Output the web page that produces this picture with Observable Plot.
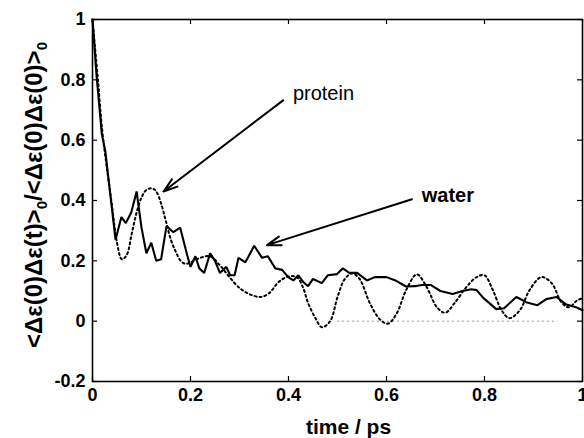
<!DOCTYPE html>
<html>
<head>
<meta charset="utf-8">
<script src="https://cdn.jsdelivr.net/npm/d3@7"></script>
<script src="https://cdn.jsdelivr.net/npm/@observablehq/plot@0.6"></script>
<style>
  html, body { margin: 0; padding: 0; background: #fff; }
  svg { display: block; }
</style>
</head>
<body>
<script>
// time (ps) and normalized correlation, solid curve ("water")
const waterSeries = [
  [0,1.0],[0.008,0.82],[0.019,0.62],[0.026,0.565],[0.047,0.27],[0.059,0.345],[0.068,0.325],
  [0.079,0.36],[0.09,0.43],[0.10,0.31],[0.11,0.225],[0.12,0.26],[0.13,0.20],[0.14,0.205],
  [0.151,0.315],[0.165,0.295],[0.179,0.31],[0.193,0.22],[0.2,0.18],[0.21,0.215],[0.218,0.175],
  [0.228,0.16],[0.24,0.225],[0.25,0.2],[0.26,0.16],[0.273,0.18],[0.281,0.152],[0.29,0.152],
  [0.298,0.21],[0.312,0.195],[0.33,0.25],[0.346,0.21],[0.358,0.215],[0.373,0.175],[0.387,0.17],
  [0.40,0.145],[0.41,0.135],[0.42,0.152],[0.43,0.13],[0.44,0.116],[0.45,0.14],[0.468,0.126],
  [0.48,0.152],[0.499,0.156],[0.511,0.175],[0.524,0.16],[0.54,0.16],[0.56,0.135],[0.576,0.146],
  [0.60,0.146],[0.617,0.136],[0.64,0.115],[0.658,0.116],[0.672,0.12],[0.69,0.12],[0.71,0.1],
  [0.735,0.09],[0.755,0.1],[0.773,0.106],[0.784,0.103],[0.797,0.078],[0.824,0.04],[0.84,0.043],
  [0.865,0.08],[0.885,0.063],[0.908,0.053],[0.926,0.073],[0.947,0.08],[0.967,0.055],
  [0.987,0.046],[1.0,0.036]
];
// dotted curve ("protein")
const proteinSeries = [
  [0,1.0],[0.01,0.82],[0.02,0.63],[0.03,0.5],[0.04,0.38],[0.05,0.26],[0.06,0.205],[0.07,0.22],
  [0.08,0.29],[0.09,0.36],[0.1,0.41],[0.11,0.435],[0.122,0.44],[0.13,0.43],[0.14,0.39],
  [0.15,0.33],[0.16,0.27],[0.17,0.23],[0.18,0.2],[0.19,0.19],[0.2,0.195],[0.22,0.21],
  [0.24,0.215],[0.26,0.185],[0.28,0.145],[0.3,0.11],[0.32,0.09],[0.342,0.08],[0.36,0.092],
  [0.38,0.13],[0.40,0.148],[0.417,0.146],[0.43,0.11],[0.44,0.06],[0.455,0.01],[0.468,-0.02],
  [0.485,0.0],[0.5,0.08],[0.515,0.14],[0.53,0.158],[0.545,0.14],[0.566,0.06],[0.587,0.005],
  [0.603,-0.008],[0.621,0.026],[0.64,0.103],[0.662,0.155],[0.682,0.113],[0.703,0.046],
  [0.72,0.028],[0.739,0.06],[0.763,0.113],[0.784,0.146],[0.8,0.152],[0.817,0.103],
  [0.835,0.036],[0.851,0.01],[0.872,0.036],[0.892,0.103],[0.916,0.146],[0.937,0.126],
  [0.957,0.063],[0.972,0.046],[0.99,0.07],[1.0,0.075]
];
// faint zero reference segment
const zeroSegment = [{x1: 0.5, x2: 0.95, y: 0}];

const xTicks = [0, 0.2, 0.4, 0.6, 0.8, 1];
const yTicks = [-0.2, 0, 0.2, 0.4, 0.6, 0.8, 1];
const xLabel = "time / ps";

// annotations: label, label anchor point, arrow start and tip
const proteinNote = [{label: "protein", tx: 0.409, ty: 0.755, x1: 0.389, y1: 0.732, x2: 0.145, y2: 0.43}];
const waterNote   = [{label: "water",   tx: 0.672, ty: 0.417, x1: 0.652, y1: 0.404, x2: 0.356, y2: 0.252}];

const W = 584, H = 438;
const mL = 92, mR = 2, mT = 19, mB = 57;
const innerW = W - mL - mR, innerH = H - mT - mB;
const tickLen = 5;
const font = "'Liberation Sans', Arial, Helvetica, sans-serif";

const chart = Plot.plot({
  width: W, height: H,
  marginLeft: mL, marginRight: mR, marginTop: mT, marginBottom: mB,
  style: {fontFamily: font, fontSize: "18px", color: "#000", background: "#fff"},
  x: {domain: [0, 1]},
  y: {domain: [-0.2, 1]},
  marks: [
    Plot.ruleY(zeroSegment, {x1: "x1", x2: "x2", y: "y", stroke: "#999", strokeWidth: 1, strokeDasharray: "2,3"}),
    Plot.line(proteinSeries, {x: d => d[0], y: d => d[1], stroke: "#000", strokeWidth: 2, strokeDasharray: "2,3", curve: "catmull-rom"}),
    Plot.line(waterSeries, {x: d => d[0], y: d => d[1], stroke: "#000", strokeWidth: 2.1, strokeLinejoin: "miter"}),
    Plot.arrow(proteinNote.concat(waterNote), {x1: "x1", y1: "y1", x2: "x2", y2: "y2", stroke: "#000", strokeWidth: 2, headLength: 11, headAngle: 36}),
    Plot.text(proteinNote, {x: "tx", y: "ty", text: "label", textAnchor: "start", fontSize: 20, fill: "#000"}),
    Plot.text(waterNote, {x: "tx", y: "ty", text: "label", textAnchor: "start", fontSize: 20, fontWeight: "bold", fill: "#000"}),
    Plot.frame({stroke: "#000", strokeWidth: 1.6}),
    // inward ticks on all four sides
    Plot.tickX(xTicks, {x: d => d, insetTop: innerH - tickLen, stroke: "#000", strokeWidth: 1.2}),
    Plot.tickX(xTicks, {x: d => d, insetBottom: innerH - tickLen, stroke: "#000", strokeWidth: 1.2}),
    Plot.tickY(yTicks, {y: d => d, insetRight: innerW - tickLen, stroke: "#000", strokeWidth: 1.2}),
    Plot.tickY(yTicks, {y: d => d, insetLeft: innerW - tickLen, stroke: "#000", strokeWidth: 1.2}),
    Plot.axisX({ticks: xTicks, tickSize: 0, tickPadding: 7, tickFormat: d => String(d), label: null, fontWeight: "bold"}),
    Plot.axisY({ticks: yTicks, tickSize: 0, tickPadding: 7, tickFormat: d => String(d), label: null, fontWeight: "bold"}),
    Plot.text([xLabel], {frameAnchor: "bottom", dx: 11, dy: 46, lineAnchor: "middle", fontSize: 21, fontWeight: "bold", fill: "#000"})
  ]
});

document.body.appendChild(chart);

// y-axis label with subscripts
const yl = d3.select(chart).append("text")
  .attr("transform", "translate(42,195) rotate(-90)")
  .attr("text-anchor", "middle")
  .attr("font-family", font)
  .attr("font-size", 24)
  .attr("font-weight", "bold")
  .attr("fill", "#000");
yl.append("tspan").text("<Δε(0)Δε(t)>");
yl.append("tspan").attr("font-size", 15).attr("dy", 5).text("0");
yl.append("tspan").attr("dy", -5).text("/<Δε(0)Δε(0)>");
yl.append("tspan").attr("font-size", 15).attr("dy", 5).text("0");
</script>
</body>
</html>
